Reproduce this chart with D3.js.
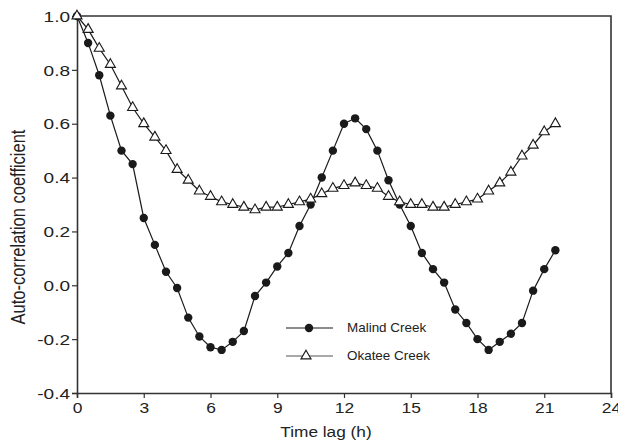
<!DOCTYPE html>
<html>
<head>
<meta charset="utf-8">
<script src="https://cdn.jsdelivr.net/npm/d3@7"></script>
<style>
  html, body { margin: 0; padding: 0; background: #fff; }
  svg { display: block; }
  text { font-family: "Liberation Sans", Arial, Helvetica, sans-serif; fill: #222; }
</style>
</head>
<body>
<svg id="chart" width="618" height="447"></svg>
<script>
// ---- data ----
const timeLag = [0, 0.5, 1, 1.5, 2, 2.5, 3, 3.5, 4, 4.5, 5, 5.5, 6, 6.5, 7, 7.5, 8, 8.5, 9, 9.5, 10, 10.5,
                 11, 11.5, 12, 12.5, 13, 13.5, 14, 14.5, 15, 15.5, 16, 16.5, 17, 17.5, 18, 18.5, 19, 19.5, 20, 20.5, 21, 21.5];
const malind = [1.00, 0.90, 0.78, 0.63, 0.50, 0.45, 0.25, 0.15, 0.05, -0.01, -0.12, -0.19, -0.23, -0.24, -0.21, -0.17,
                -0.04, 0.01, 0.07, 0.12, 0.22, 0.30, 0.40, 0.50, 0.60, 0.62, 0.58, 0.50, 0.39, 0.30, 0.22, 0.12,
                0.06, 0.01, -0.09, -0.14, -0.20, -0.24, -0.21, -0.18, -0.14, -0.02, 0.06, 0.13];
const okatee = [1.00, 0.95, 0.88, 0.82, 0.74, 0.66, 0.60, 0.55, 0.50, 0.43, 0.39, 0.35, 0.33, 0.31, 0.30, 0.29,
                0.28, 0.29, 0.29, 0.30, 0.31, 0.32, 0.34, 0.36, 0.37, 0.38, 0.37, 0.36, 0.33, 0.31, 0.30, 0.30,
                0.29, 0.29, 0.30, 0.31, 0.32, 0.35, 0.38, 0.42, 0.48, 0.52, 0.57, 0.60];
const xTicks = [0, 3, 6, 9, 12, 15, 18, 21, 24];
const yTicks = [-0.4, -0.2, 0.0, 0.2, 0.4, 0.6, 0.8, 1.0];
const seriesNames = ["Malind Creek", "Okatee Creek"];
const xTitle = "Time lag (h)";
const yTitle = "Auto-correlation coefficient";

// ---- layout ----
const svg = d3.select("#chart");
const mLeft = 77, mRight = 611, mTop = 16, mBottom = 393;
const x = d3.scaleLinear().domain([0, 24]).range([mLeft, mRight]);
const y = d3.scaleLinear().domain([-0.4, 1.0]).range([mBottom, mTop]);
const ink = "#1a1a1a";
const sxX = 1.2, sxY = 1.27; // horizontal text stretch seen in the reference
const yFmt = d => d3.format(".1f")(d).replace("\u2212", "-");

// frame (top and right)
svg.append("path")
  .attr("d", `M${mLeft},${mTop}H${mRight}V${mBottom}`)
  .attr("fill", "none").attr("stroke", "#333").attr("stroke-width", 1.6);

// axes
const xAxis = svg.append("g").attr("transform", `translate(0,${mBottom})`)
  .call(d3.axisBottom(x).tickValues(xTicks).tickSizeOuter(0).tickSize(5).tickPadding(6).tickFormat(d3.format("d")));
const yAxis = svg.append("g").attr("transform", `translate(${mLeft},0)`)
  .call(d3.axisLeft(y).tickValues(yTicks).tickSizeOuter(0).tickSize(5).tickPadding(4).tickFormat(yFmt));
[xAxis, yAxis].forEach(g => {
  g.select(".domain").attr("stroke", "#333").attr("stroke-width", 1.6);
  g.selectAll(".tick line").attr("stroke", "#333").attr("stroke-width", 1.2);
  g.selectAll(".tick text").attr("fill", "#222")
    .style("font-family", "'Liberation Sans', Arial, sans-serif");
});
xAxis.selectAll(".tick text").style("font-size", "14.5px")
  .attr("transform", `scale(${sxX},1)`).attr("y", 10).attr("dy", "0.71em");
yAxis.selectAll(".tick text").style("font-size", "15px")
  .attr("transform", `scale(${sxY},1)`).attr("x", -7 / sxY).attr("dy", "0.35em");

// axis titles
svg.append("text")
  .attr("transform", `translate(326,437) scale(1.15,1)`)
  .attr("text-anchor", "middle").style("font-size", "15px").text(xTitle);
svg.append("text")
  .attr("transform", `translate(25,227) rotate(-90) scale(1,1.18)`)
  .attr("text-anchor", "middle").style("font-size", "16.5px").text(yTitle);

// series
const malindPts = timeLag.map((t, i) => ({ t, v: malind[i] }));
const okateePts = timeLag.map((t, i) => ({ t, v: okatee[i] }));
const line = d3.line().x(d => x(d.t)).y(d => y(d.v));

svg.append("path").datum(malindPts).attr("d", line)
  .attr("fill", "none").attr("stroke", ink).attr("stroke-width", 1.2);
svg.append("g").selectAll("circle").data(malindPts).join("circle")
  .attr("cx", d => x(d.t)).attr("cy", d => y(d.v)).attr("r", 4.2).attr("fill", ink);

const tri = d3.symbol().type(d3.symbolTriangle).size(44);
svg.append("path").datum(okateePts).attr("d", line)
  .attr("fill", "none").attr("stroke", ink).attr("stroke-width", 1.2);
svg.append("g").selectAll("path").data(okateePts).join("path")
  .attr("d", tri).attr("transform", d => `translate(${x(d.t)},${y(d.v)})`)
  .attr("fill", "#fff").attr("stroke", ink).attr("stroke-width", 1.1);

// legend
const leg = svg.append("g");
const legRows = [{ name: seriesNames[0], yy: 328, kind: "circle" }, { name: seriesNames[1], yy: 356, kind: "tri" }];
legRows.forEach(r => {
  leg.append("line").attr("x1", 286).attr("x2", 333).attr("y1", r.yy).attr("y2", r.yy)
    .attr("stroke", r.kind === "circle" ? ink : "#555").attr("stroke-width", 1.1);
  if (r.kind === "circle") {
    leg.append("circle").attr("cx", 309).attr("cy", r.yy).attr("r", 4.2).attr("fill", ink);
  } else {
    leg.append("path").attr("d", tri).attr("transform", `translate(306,${r.yy})`)
      .attr("fill", "#fff").attr("stroke", ink).attr("stroke-width", 1.1);
  }
  leg.append("text").attr("transform", `translate(347,${r.yy + 4}) scale(1.12,1)`)
    .style("font-size", "12px").text(r.name);
});
</script>
</body>
</html>
